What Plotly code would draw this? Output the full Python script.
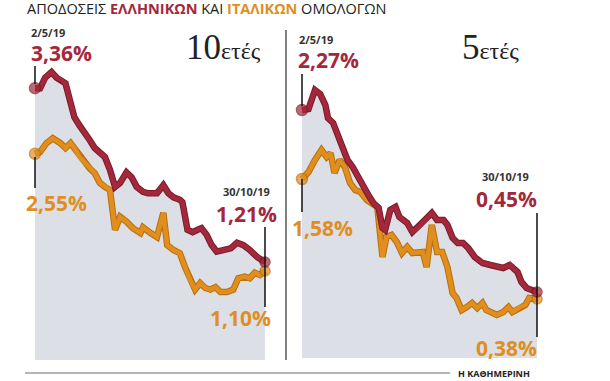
import plotly.graph_objects as go
import pandas as pd

W, H = 610, 381
START = pd.Timestamp("2019-05-02")

# ---- 10-year yields (days since 2/5/19, %)
gr10_days = [0, 4, 8, 13, 17, 21, 24, 28, 31, 35, 39, 43, 47, 51, 55, 59, 63, 67, 72, 76, 80, 85, 89,
             96, 101, 105, 109, 114, 116, 120, 124, 128, 131, 135, 139, 143, 148, 154, 159, 164, 169, 175, 181]
gr10_vals = [3.36, 3.36, 3.49, 3.56, 3.49, 3.46, 3.42, 3.18, 3.00, 2.90, 2.82, 2.72, 2.62, 2.56, 2.51, 2.35,
             2.14, 2.19, 2.32, 2.26, 2.14, 2.08, 2.06, 2.06, 2.16, 2.06, 2.01, 1.98, 1.95, 1.61, 1.58, 1.61,
             1.63, 1.55, 1.42, 1.34, 1.36, 1.38, 1.45, 1.42, 1.36, 1.27, 1.21]
it10_days = [0, 4, 9, 14, 20, 24, 28, 31, 35, 39, 43, 47, 51, 55, 59, 63, 67, 72, 77, 83, 85, 91, 96,
             101, 104, 109, 114, 118, 122, 126, 130, 134, 138, 142, 146, 151, 156, 160, 165, 169, 173, 177, 181]
it10_vals = [2.55, 2.57, 2.68, 2.74, 2.68, 2.62, 2.68, 2.62, 2.51, 2.44, 2.37, 2.31, 2.19, 2.14, 2.10, 1.61,
             1.77, 1.71, 1.63, 1.57, 1.64, 1.57, 1.52, 1.82, 1.42, 1.36, 1.32, 1.15, 0.99, 0.87, 0.95, 0.89,
             0.87, 0.90, 0.84, 0.84, 0.87, 1.01, 1.03, 1.01, 1.08, 1.05, 1.10]

# ---- 5-year yields
gr5_days = [0, 5, 10, 14, 18, 20, 24, 28, 32, 35, 39, 43, 49, 52, 55, 59, 62, 64, 68, 72, 75, 81, 85,
            89, 93, 100, 104, 109, 112, 116, 120, 124, 128, 133, 139, 145, 151, 155, 160, 166, 169, 173, 181]
gr5_vals = [2.27, 2.28, 2.47, 2.43, 2.32, 2.19, 2.14, 2.00, 1.87, 1.77, 1.70, 1.60, 1.47, 1.40, 1.34, 1.29,
            1.09, 1.07, 1.27, 1.30, 1.20, 1.14, 1.05, 1.09, 1.15, 1.24, 1.17, 1.17, 1.12, 0.99, 0.94, 0.94,
            0.89, 0.80, 0.74, 0.72, 0.70, 0.69, 0.72, 0.65, 0.55, 0.49, 0.45]
it5_days = [0, 5, 10, 15, 19, 22, 25, 29, 33, 37, 41, 45, 50, 58, 62, 65, 69, 73, 77, 81, 85, 89, 93, 96,
            100, 104, 108, 112, 116, 119, 123, 127, 131, 135, 139, 142, 146, 150, 155, 159, 162, 168, 172, 175, 181]
it5_vals = [1.58, 1.65, 1.77, 1.87, 1.80, 1.84, 1.64, 1.77, 1.70, 1.54, 1.47, 1.45, 1.37, 1.30, 0.80, 1.00,
            1.02, 0.95, 0.84, 0.90, 0.84, 0.85, 0.85, 0.70, 1.12, 0.85, 0.85, 0.70, 0.44, 0.39, 0.27, 0.30,
            0.34, 0.29, 0.34, 0.27, 0.24, 0.22, 0.25, 0.30, 0.25, 0.30, 0.32, 0.39, 0.38]

start_label, end_label = "2/5/19", "30/10/19"
title_parts = ["ΑΠΟΔΟΣΕΙΣ", "ΕΛΛΗΝΙΚΩΝ", "ΚΑΙ", "ΙΤΑΛΙΚΩΝ", "ΟΜΟΛΟΓΩΝ"]
panel_titles = [("10", "ετές"), ("5", "ετές")]
source = "Η ΚΑΘΗΜΕΡΙΝΗ"

RED, RED_D = "#a3283b", "#7c1a2a"
ORA, ORA_D = "#e08e1e", "#b8700f"
GREY_FILL = "#dcdfe6"
FONT = "Open Sans"


def dates(days):
    return [START + pd.Timedelta(days=d) for d in days]


def fmt(v):
    return f"{v:.2f}".replace(".", ",") + "%"


fig = go.Figure()

panels = [
    ("x", "y", gr10_days, gr10_vals, it10_days, it10_vals, 0.0),
    ("x2", "y2", gr5_days, gr5_vals, it5_days, it5_vals, -0.21),
]
for xa, ya, gd, gv, idd, iv, base in panels:
    gx, ix = dates(gd), dates(idd)
    # baseline + grey area under the Greek yield
    fig.add_trace(go.Scatter(x=[gx[0], gx[-1]], y=[base, base], mode="lines",
                             line=dict(width=0, color=GREY_FILL), xaxis=xa, yaxis=ya,
                             showlegend=False, hoverinfo="skip"))
    fig.add_trace(go.Scatter(x=gx, y=gv, mode="lines", line=dict(width=0, color=GREY_FILL),
                             fill="tonexty", fillcolor=GREY_FILL, xaxis=xa, yaxis=ya,
                             showlegend=False, hoverinfo="skip"))
    for xs, vs, c, cd in [(ix, iv, ORA, ORA_D), (gx, gv, RED, RED_D)]:
        fig.add_trace(go.Scatter(x=xs, y=vs, mode="lines", line=dict(width=6.5, color=cd),
                                 xaxis=xa, yaxis=ya, showlegend=False))
        fig.add_trace(go.Scatter(x=xs, y=vs, mode="lines", line=dict(width=4.5, color=c),
                                 xaxis=xa, yaxis=ya, showlegend=False))
        fig.add_trace(go.Scatter(x=[xs[0], xs[-1]], y=[vs[0], vs[-1]], mode="markers",
                                 marker=dict(size=[11, 10], color=c, line=dict(width=1.5, color=cd)),
                                 cliponaxis=False, xaxis=xa, yaxis=ya, showlegend=False))


def px_x(px):
    return px / W


def px_y(py):
    return 1 - py / H


ann = []


def label(text, px, py, size, color, xanchor="left", family=FONT):
    ann.append(dict(text=text, x=px_x(px), y=px_y(py), xref="paper", yref="paper",
                    xanchor=xanchor, yanchor="middle", showarrow=False,
                    font=dict(size=size, color=color, family=family)))


# title
t = (f"{title_parts[0]} <b><span style='color:{RED}'>{title_parts[1]}</span></b> {title_parts[2]} "
     f"<b><span style='color:{ORA}'>{title_parts[3]}</span></b> {title_parts[4]}")
label(t, 25, 8, 14.5, "#222")

PS = 21
# 10-year labels
label(f"<b>{start_label}</b>", 29, 33, 11, "#333")
label(f"<b>{fmt(gr10_vals[0])}</b>", 29, 53, PS, RED)
label(f"<b>{fmt(it10_vals[0])}</b>", 24, 203, PS, ORA)
label(f"<b>{end_label}</b>", 246, 191, 11, "#333", "center")
label(f"<b>{fmt(gr10_vals[-1])}</b>", 246, 214, PS, RED, "center")
label(f"<b>{fmt(it10_vals[-1])}</b>", 240, 318, PS, ORA, "center")
label(f"<span style='font-size:35px'>{panel_titles[0][0]}</span>"
      f"<span style='font-size:24px'>{panel_titles[0][1]}</span>", 223, 47, 35, "#222",
      "center", "Liberation Serif")

# 5-year labels
label(f"<b>{start_label}</b>", 297, 39, 11, "#333")
label(f"<b>{fmt(gr5_vals[0])}</b>", 296, 60, PS, RED)
label(f"<b>{fmt(it5_vals[0])}</b>", 290, 228, PS, ORA)
label(f"<b>{end_label}</b>", 505, 176, 11, "#333", "center")
label(f"<b>{fmt(gr5_vals[-1])}</b>", 506, 199, PS, RED, "center")
label(f"<b>{fmt(it5_vals[-1])}</b>", 506, 348, PS, ORA, "center")
label(f"<span style='font-size:35px'>{panel_titles[1][0]}</span>"
      f"<span style='font-size:24px'>{panel_titles[1][1]}</span>", 490, 47, 35, "#222",
      "center", "Liberation Serif")

# source
label(f"<b>{source}</b>", 456, 373, 9, "#222")

shapes = []


def vline(xref, day, py0, py1):
    shapes.append(dict(type="line", xref=xref, yref="paper", x0=START + pd.Timedelta(days=day),
                       x1=START + pd.Timedelta(days=day), y0=px_y(py0), y1=px_y(py1),
                       line=dict(color="#111", width=1.5)))


vline("x", gr10_days[0], 66, 84)
vline("x", it10_days[0], 157, 188)
vline("x", gr10_days[-1], 227, 307)
vline("x2", gr5_days[0], 74, 106)
vline("x2", it5_days[0], 179, 212)
vline("x2", gr5_days[-1], 213, 337)

# divider and bottom rule
shapes.append(dict(type="line", xref="paper", yref="paper", x0=px_x(286), x1=px_x(286),
                   y0=px_y(30), y1=px_y(360), line=dict(color="#555", width=1.5)))
shapes.append(dict(type="line", xref="paper", yref="paper", x0=px_x(25), x1=px_x(450),
                   y0=px_y(373), y1=px_y(373), line=dict(color="#b5b5b5", width=2)))

# axes geometry
l_ppd = 230 / 181
r_ppd = 235 / 181
pad = 4
x_rng = [START - pd.Timedelta(days=pad), START + pd.Timedelta(days=181 + pad)]
common = dict(visible=False, showgrid=False, zeroline=False, fixedrange=True)
fig.update_layout(
    width=W, height=H, margin=dict(l=0, r=0, t=0, b=0),
    paper_bgcolor="white", plot_bgcolor="rgba(0,0,0,0)",
    xaxis=dict(domain=[px_x(35 - pad * l_ppd), px_x(265 + pad * l_ppd)], range=x_rng, anchor="y", **common),
    yaxis=dict(domain=[px_y(360), px_y(30)], range=[0, (360 - 30) / 80.9], anchor="x", **common),
    xaxis2=dict(domain=[px_x(302 - pad * r_ppd), px_x(537 + pad * r_ppd)], range=x_rng, anchor="y2", **common),
    yaxis2=dict(domain=[px_y(358), px_y(30)], range=[-0.21, -0.21 + (358 - 30) / 100], anchor="x2", **common),
    annotations=ann, shapes=shapes, showlegend=False,
)

fig.write_html("out.html")
